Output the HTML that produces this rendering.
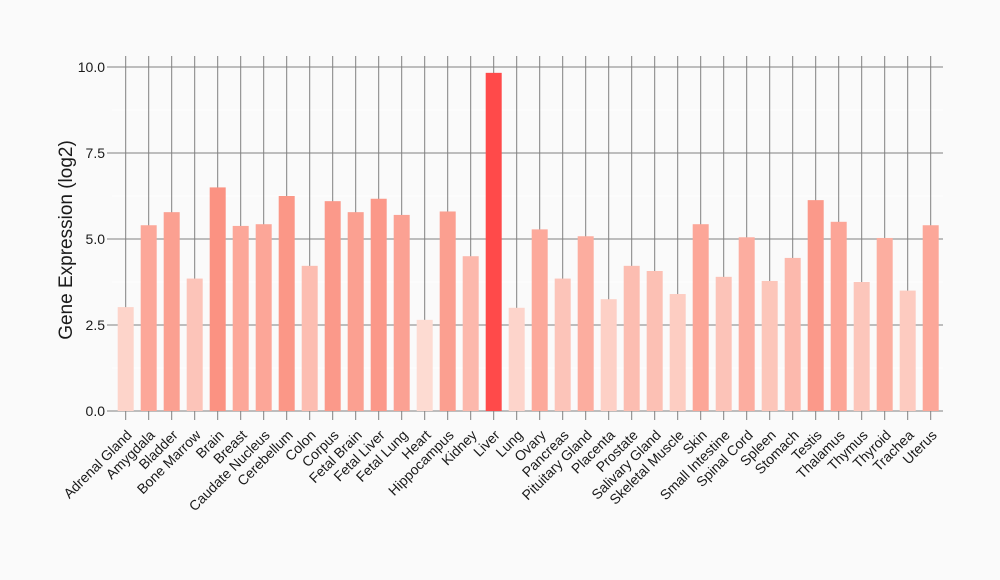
<!DOCTYPE html>
<html><head><meta charset="utf-8"><style>
html,body{margin:0;padding:0;background:#fafafa;}
svg{display:block;font-family:"Liberation Sans",Arial,sans-serif;}
</style></head><body>
<svg width="1000" height="580" viewBox="0 0 1000 580">
<rect width="1000" height="580" fill="#fafafa"/>
<g stroke="#ffffff" stroke-width="1">
<line x1="112" x2="943" y1="110" y2="110"/><line x1="112" x2="943" y1="196" y2="196"/><line x1="112" x2="943" y1="282" y2="282"/><line x1="112" x2="943" y1="368" y2="368"/>
</g>
<g stroke="#808080" stroke-width="1">
<line x1="112" x2="943" y1="67" y2="67"/><line x1="112" x2="943" y1="153" y2="153"/><line x1="112" x2="943" y1="239" y2="239"/><line x1="112" x2="943" y1="325" y2="325"/><line x1="112" x2="943" y1="411" y2="411"/>
<line x1="107" x2="112" y1="67" y2="67"/><line x1="107" x2="112" y1="153" y2="153"/><line x1="107" x2="112" y1="239" y2="239"/><line x1="107" x2="112" y1="325" y2="325"/><line x1="107" x2="112" y1="411" y2="411"/>
</g>
<g id="v" stroke="#808080" stroke-width="1"></g>
<g id="b"></g>
<g id="l" font-size="14" fill="#1a1a1a"></g>
<g font-size="14" fill="#1a1a1a" text-anchor="end">
<text x="105" y="72">10.0</text><text x="105" y="158">7.5</text><text x="105" y="244">5.0</text><text x="105" y="330">2.5</text><text x="105" y="416">0.0</text>
</g>
<text transform="translate(72,240) rotate(-90)" text-anchor="middle" font-size="19" fill="#1a1a1a">Gene Expression (log2)</text>
<script>
var d=[["Adrenal Gland",3.02],["Amygdala",5.4],["Bladder",5.78],["Bone Marrow",3.85],["Brain",6.5],["Breast",5.38],["Caudate Nucleus",5.43],["Cerebellum",6.25],["Colon",4.22],["Corpus",6.1],["Fetal Brain",5.78],["Fetal Liver",6.17],["Fetal Lung",5.7],["Heart",2.65],["Hippocampus",5.8],["Kidney",4.5],["Liver",9.83],["Lung",3.0],["Ovary",5.28],["Pancreas",3.85],["Pituitary Gland",5.08],["Placenta",3.25],["Prostate",4.22],["Salivary Gland",4.07],["Skeletal Muscle",3.4],["Skin",5.43],["Small Intestine",3.9],["Spinal Cord",5.05],["Spleen",3.78],["Stomach",4.45],["Testis",6.13],["Thalamus",5.5],["Thymus",3.75],["Thyroid",5.03],["Trachea",3.5],["Uterus",5.4]];
var ns="http://www.w3.org/2000/svg",V=document.getElementById("v"),B=document.getElementById("b"),L=document.getElementById("l");
d.forEach(function(e,i){var c=125.7+23*i,v=e[1],h=v*34.4;
var ln=document.createElementNS(ns,"line");ln.setAttribute("x1",c);ln.setAttribute("x2",c);ln.setAttribute("y1",56);ln.setAttribute("y2",420);V.appendChild(ln);
var r=document.createElementNS(ns,"rect");r.setAttribute("x",c-8);r.setAttribute("width",16);r.setAttribute("y",411-h);r.setAttribute("height",h);
var col;if(v>9)col="#ff4a4a";else{var g=Math.round(219-(v-2.65)*19),b=Math.round(210-(v-2.65)*20.8),rr=Math.round(253-(v-2.65)*0.5);col="rgb("+rr+","+g+","+b+")";}
r.setAttribute("fill",col);B.appendChild(r);
var t=document.createElementNS(ns,"text");t.setAttribute("text-anchor","end");t.setAttribute("transform","translate("+(c+7)+",436) rotate(-45)");t.textContent=e[0];L.appendChild(t);});
</script>
</svg>
</body></html>
